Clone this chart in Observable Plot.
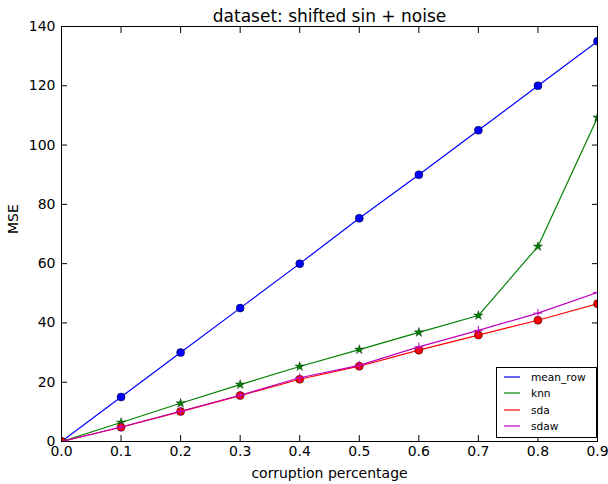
<!DOCTYPE html>
<html><head><meta charset="utf-8">
<script src="https://cdn.jsdelivr.net/npm/d3@7"></script>
<script src="https://cdn.jsdelivr.net/npm/@observablehq/plot@0.6"></script>
<style>
body{margin:0;background:#fff;}
#wrap{position:relative;width:608px;height:484px;font-family:"DejaVu Sans",sans-serif;}
.legend{position:absolute;left:496px;top:367px;width:101px;height:71px;border:1px solid #000;background:#fff;box-sizing:border-box;font-size:10.6px;color:#000}
.legend .row{position:absolute;left:0;height:16px;display:flex;align-items:center}
.legend svg{margin-left:7px;margin-right:11px;display:block}
</style></head><body><div id="wrap"></div>
<script>
const corruption = [0.0, 0.1, 0.2, 0.3, 0.4, 0.5, 0.6, 0.7, 0.8, 0.9];
const meanRow = [0, 15, 30, 45, 60, 75.3, 90, 105, 120, 135];
const knn = [0, 6.4, 12.9, 19.2, 25.3, 31, 36.8, 42.5, 65.8, 109.3];
const sda = [0, 4.8, 10.1, 15.5, 21, 25.4, 30.8, 35.9, 40.9, 46.5];
const sdaw = [0, 4.9, 10.2, 15.6, 21.5, 25.7, 31.9, 37.5, 43.3, 50.3];
const seriesNames = ["mean_row", "knn", "sda", "sdaw"];
const seriesColors = ["#0000ff", "#008000", "#ff0000", "#bf00bf"];
const xTicks = [0.0, 0.1, 0.2, 0.3, 0.4, 0.5, 0.6, 0.7, 0.8, 0.9];
const yTicks = [0, 20, 40, 60, 80, 100, 120, 140];
const titleText = "dataset: shifted sin + noise";
const xLabel = "corruption percentage";
const yLabel = "MSE";

const seriesValues = [meanRow, knn, sda, sdaw];
const rows = [];
seriesNames.forEach((name, i) => {
  corruption.forEach((c, j) => rows.push({series: name, x: c, y: seriesValues[i][j]}));
});
const bySeries = name => rows.filter(r => r.series === name);
const font = '"DejaVu Sans", sans-serif';

const chart = Plot.plot({
  width: 608,
  height: 484,
  marginTop: 26,
  marginBottom: 43,
  marginLeft: 61,
  marginRight: 11,
  style: {fontFamily: font, fontSize: "14px", background: "#fff", color: "#000", overflow: "visible"},
  x: {domain: [0, 0.9]},
  y: {domain: [0, 140]},
  marks: [
    Plot.text(xTicks, {x: d => d, text: d3.format(".1f"), frameAnchor: "bottom", lineAnchor: "top", dy: 5, fontSize: 14}),
    Plot.text(yTicks, {y: d => d, text: d => String(d), frameAnchor: "left", textAnchor: "end", dx: -6, fontSize: 14}),
    Plot.axisX({ticks: xTicks, anchor: "bottom", tickSize: -6, tickFormat: () => "", label: null}),
    Plot.axisX({ticks: xTicks, anchor: "top", tickSize: -6, tickFormat: () => "", label: null}),
    Plot.axisY({ticks: yTicks, anchor: "left", tickSize: -6, tickFormat: () => "", label: null}),
    Plot.axisY({ticks: yTicks, anchor: "right", tickSize: -6, tickFormat: () => "", label: null}),
    // series
    Plot.line(bySeries("mean_row"), {x: "x", y: "y", stroke: seriesColors[0], strokeWidth: 1.2, clip: true}),
    Plot.dot(bySeries("mean_row"), {x: "x", y: "y", fill: seriesColors[0], stroke: "#000", strokeWidth: 0.5, r: 4, clip: true}),
    Plot.line(bySeries("knn"), {x: "x", y: "y", stroke: seriesColors[1], strokeWidth: 1.2, clip: true}),
    Plot.dot(bySeries("knn"), {x: "x", y: "y", symbol: "star", fill: seriesColors[1], stroke: "#000", strokeWidth: 0.3, r: 3, clip: true}),
    Plot.line(bySeries("sda"), {x: "x", y: "y", stroke: seriesColors[2], strokeWidth: 1.2, clip: true}),
    Plot.dot(bySeries("sda"), {x: "x", y: "y", fill: seriesColors[2], stroke: "#000", strokeWidth: 0.5, r: 4, clip: true}),
    Plot.line(bySeries("sdaw"), {x: "x", y: "y", stroke: seriesColors[3], strokeWidth: 1.2, clip: true}),
    Plot.dot(bySeries("sdaw"), {x: "x", y: "y", symbol: "plus", stroke: seriesColors[3], strokeWidth: 1, r: 3, clip: true}),
    Plot.frame({stroke: "#000", strokeWidth: 1}),
    // texts
    Plot.text([titleText], {text: d => d, frameAnchor: "top", fontSize: 17, lineAnchor: "bottom", dy: -5}),
    Plot.text([xLabel], {text: d => d, frameAnchor: "bottom", dy: 27, fontSize: 14, lineAnchor: "top"}),
    Plot.text([yLabel], {text: d => d, frameAnchor: "left", dx: -48, rotate: -90, fontSize: 14})
  ]
});
const wrap = document.getElementById("wrap");
wrap.appendChild(chart);

const legend = document.createElement("div");
legend.className = "legend";
seriesNames.forEach((name, i) => {
  const row = document.createElement("div");
  row.className = "row";
  row.style.top = (1 + i * 16.4) + "px";
  const sw = d3.create("svg").attr("width", 16).attr("height", 4);
  sw.append("line").attr("x1", 0).attr("x2", 16).attr("y1", 2).attr("y2", 2)
    .attr("stroke", seriesColors[i]).attr("stroke-width", 1.2);
  row.appendChild(sw.node());
  row.appendChild(document.createTextNode(name));
  legend.appendChild(row);
});
wrap.appendChild(legend);
</script>
</body></html>
